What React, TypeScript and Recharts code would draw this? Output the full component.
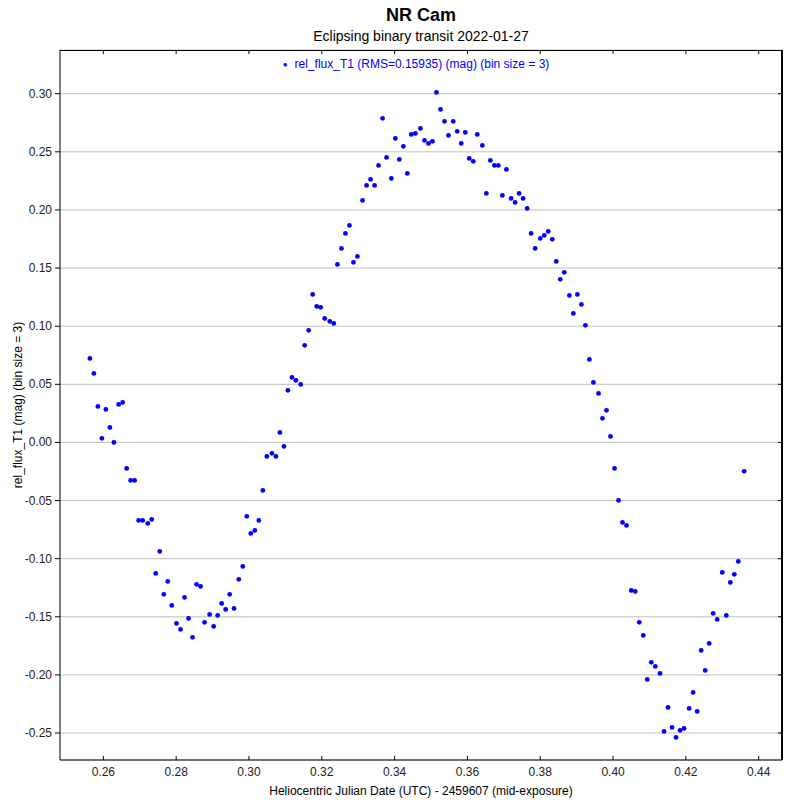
import { ScatterChart, Scatter, XAxis, YAxis, CartesianGrid } from "recharts";

// heliocentric JD offsets (days after 2459607) and binned magnitudes
const jd = [
  0.2563, 0.2574, 0.2585, 0.2596, 0.2607, 0.2618, 0.2629, 0.2642, 0.2653, 0.2664,
  0.2675, 0.2686, 0.2697, 0.2708, 0.2722, 0.2733, 0.2744, 0.2755, 0.2766, 0.2777,
  0.2788, 0.2801, 0.2812, 0.2823, 0.2834, 0.2845, 0.2856, 0.2867, 0.2878, 0.2892,
  0.2903, 0.2914, 0.2925, 0.2936, 0.2947, 0.2959, 0.2972, 0.2983, 0.2994, 0.3005,
  0.3016, 0.3027, 0.3038, 0.3049, 0.3063, 0.3074, 0.3085, 0.3096, 0.3107, 0.3118,
  0.3129, 0.3142, 0.3153, 0.3164, 0.3175, 0.3186, 0.3197, 0.3208, 0.3222, 0.3233,
  0.3243, 0.3254, 0.3265, 0.3276, 0.3287, 0.3298, 0.3312, 0.3323, 0.3334, 0.3345,
  0.3356, 0.3367, 0.3378, 0.3391, 0.3402, 0.3413, 0.3424, 0.3435, 0.3446, 0.3457,
  0.3471, 0.3482, 0.3493, 0.3504, 0.3515, 0.3526, 0.3537, 0.3548, 0.3561, 0.3572,
  0.3583, 0.3594, 0.3605, 0.3616, 0.3627, 0.3641, 0.3652, 0.3663, 0.3674, 0.3685,
  0.3696, 0.3707, 0.372, 0.3731, 0.3742, 0.3753, 0.3764, 0.3775, 0.3786, 0.38,
  0.3811, 0.3822, 0.3833, 0.3844, 0.3855, 0.3866, 0.388, 0.3891, 0.3902, 0.3913,
  0.3924, 0.3935, 0.3946, 0.396, 0.3971, 0.3982, 0.3993, 0.4004, 0.4015, 0.4026,
  0.4037, 0.405, 0.4061, 0.4072, 0.4083, 0.4094, 0.4105, 0.4116, 0.4129, 0.414,
  0.4151, 0.4162, 0.4173, 0.4184, 0.4195, 0.4209, 0.422, 0.4231, 0.4242, 0.4253,
  0.4264, 0.4275, 0.4286, 0.43, 0.4311, 0.4322, 0.4333, 0.4344, 0.436,
];

const relFlux = [
  0.0723, 0.0594, 0.031, 0.0035, 0.0284, 0.0129, 0.0, 0.0327, 0.0344, -0.0224,
  -0.0327, -0.0327, -0.0671, -0.0671, -0.0697, -0.0662, -0.1127, -0.0938, -0.1307, -0.1196,
  -0.1402, -0.1557, -0.1609, -0.1333, -0.1514, -0.1677, -0.1221, -0.1239, -0.1548, -0.148,
  -0.1583, -0.1488, -0.1385, -0.1437, -0.1307, -0.1428, -0.1178, -0.1067, -0.0636, -0.0783,
  -0.0757, -0.0671, -0.0413, -0.012, -0.0094, -0.012, 0.0086, -0.0034, 0.0448, 0.0559,
  0.0533, 0.0499, 0.0835, 0.0964, 0.1273, 0.117, 0.1162, 0.1067, 0.1041, 0.1024,
  0.1531, 0.1669, 0.1798, 0.1867, 0.1549, 0.16, 0.2082, 0.2211, 0.2263, 0.2211,
  0.2383, 0.2788, 0.2452, 0.2271, 0.2615, 0.2435, 0.2547, 0.2314, 0.265, 0.2658,
  0.2701, 0.2598, 0.2572, 0.259, 0.3011, 0.2865, 0.2762, 0.2641, 0.2762, 0.2676,
  0.2572, 0.2667, 0.2443, 0.2418, 0.265, 0.2555, 0.2142, 0.2426, 0.2383, 0.2383,
  0.2125, 0.2349, 0.2099, 0.2065, 0.2142, 0.2099, 0.2013, 0.1798, 0.1669, 0.1755,
  0.1781, 0.1815, 0.1747, 0.1557, 0.1403, 0.1463, 0.1265, 0.111, 0.1273, 0.1187,
  0.1007, 0.0714, 0.0516, 0.0422, 0.0207, 0.0276, 0.0052, -0.0224, -0.0499, -0.0688,
  -0.0714, -0.1273, -0.1282, -0.1548, -0.166, -0.2039, -0.1892, -0.1927, -0.1987, -0.2486,
  -0.228, -0.2452, -0.2538, -0.2477, -0.246, -0.2288, -0.2151, -0.2314, -0.1789, -0.1961,
  -0.1729, -0.1471, -0.1523, -0.1118, -0.1488, -0.1204, -0.1135, -0.1024, -0.0249,
];

const xTicks = [0.26, 0.28, 0.3, 0.32, 0.34, 0.36, 0.38, 0.4, 0.42, 0.44];
const yTicks = [-0.25, -0.2, -0.15, -0.1, -0.05, 0, 0.05, 0.1, 0.15, 0.2, 0.25, 0.3];

const points = jd.map((x, i) => ({ x, y: relFlux[i] }));

const FONT = "'Liberation Sans', Arial, sans-serif";
const xDomain = [0.2481, 0.4464];
const yDomain = [-0.2732, 0.3376];

const W = 800;
const H = 800;
const M = { top: 50, right: 18, left: 60, bottom: 40 };
const PLOT_W = W - M.left - M.right;
const PLOT_H = H - M.top - M.bottom;

// bottom tick: inward mark on both bottom and top edge of the frame
const BottomTick = ({ x, y, payload }: any) => (
  <g>
    <line x1={x} x2={x} y1={y} y2={y - 4} stroke="#000" />
    <line x1={x} x2={x} y1={y - PLOT_H} y2={y - PLOT_H + 4} stroke="#000" />
    <text x={x} y={y + 16} textAnchor="middle" fontSize={12} fill="#222" fontFamily={FONT}>
      {payload.value.toFixed(2)}
    </text>
  </g>
);

// left tick: outward mark on the left, inward mark on the right edge
const LeftTick = ({ x, y, payload }: any) => (
  <g>
    <line x1={x - 5} x2={x} y1={y} y2={y} stroke="#000" />
    <line x1={x + PLOT_W - 4} x2={x + PLOT_W} y1={y} y2={y} stroke="#000" />
    <text x={x - 8} y={y + 4} textAnchor="end" fontSize={12} fill="#222" fontFamily={FONT}>
      {payload.value.toFixed(2)}
    </text>
  </g>
);

export default function App() {
  return (
    <div style={{ position: "absolute", left: 0, top: 0, width: W, height: H, background: "#fff", fontFamily: FONT }}>
      <div style={{ position: "absolute", left: 0, width: 842, top: 5, textAlign: "center", fontSize: 18, fontWeight: 700, color: "#000" }}>
        NR Cam
      </div>
      <div style={{ position: "absolute", left: 0, width: 842, top: 28, textAlign: "center", fontSize: 14, color: "#000" }}>
        Eclipsing binary transit 2022-01-27
      </div>
      <div style={{ position: "absolute", left: 0, width: 832, top: 57, textAlign: "center", fontSize: 12, color: "#0000ff", zIndex: 2 }}>
        <span style={{ fontSize: 8, marginRight: 7, verticalAlign: "middle" }}>●</span>rel_flux_T1 (RMS=0.15935) (mag) (bin size = 3)
      </div>
      <div
        style={{
          position: "absolute",
          left: M.left,
          top: M.top,
          width: PLOT_W + 1,
          height: PLOT_H,
          borderTop: "1px solid #000",
          borderRight: "1px solid #000",
          boxSizing: "border-box",
          pointerEvents: "none",
          zIndex: 5,
        }}
      />
      <ScatterChart width={W} height={H} margin={{ top: M.top, right: M.right, bottom: 0, left: 0 }}>
        <CartesianGrid vertical={false} stroke="#c0c0c0" />
        {/* frame: top and right edges of the plot box */}
        <CartesianGrid
          stroke="#000"
          horizontalCoordinatesGenerator={({ offset }: any) => [offset.top + 0.5]}
          verticalCoordinatesGenerator={({ offset }: any) => [offset.left + offset.width - 0.5]}
        />
        <XAxis
          dataKey="x"
          type="number"
          domain={xDomain}
          ticks={xTicks}
          allowDataOverflow
          height={M.bottom}
          tickSize={0}
          tickMargin={0}
          tickLine={false}
          axisLine={{ stroke: "#000" }}
          tick={<BottomTick />}
          label={{ value: "Heliocentric Julian Date (UTC) - 2459607 (mid-exposure)", position: "insideBottom", offset: 5, fontSize: 12, fill: "#000", fontFamily: FONT }}
        />
        <YAxis
          dataKey="y"
          type="number"
          domain={yDomain}
          ticks={yTicks}
          allowDataOverflow
          width={M.left}
          tickSize={0}
          tickMargin={0}
          tickLine={false}
          axisLine={{ stroke: "#000" }}
          tick={<LeftTick />}
          label={{ value: "rel_flux_T1 (mag) (bin size = 3)", angle: -90, position: "insideLeft", offset: 18, fontSize: 12, fill: "#000", fontFamily: FONT, style: { textAnchor: "middle" } }}
        />
        <Scatter
          data={points}
          isAnimationActive={false}
          shape={(p: any) => <circle cx={p.cx} cy={p.cy} r={2.4} fill="#0000ff" />}
        />
      </ScatterChart>
    </div>
  );
}
